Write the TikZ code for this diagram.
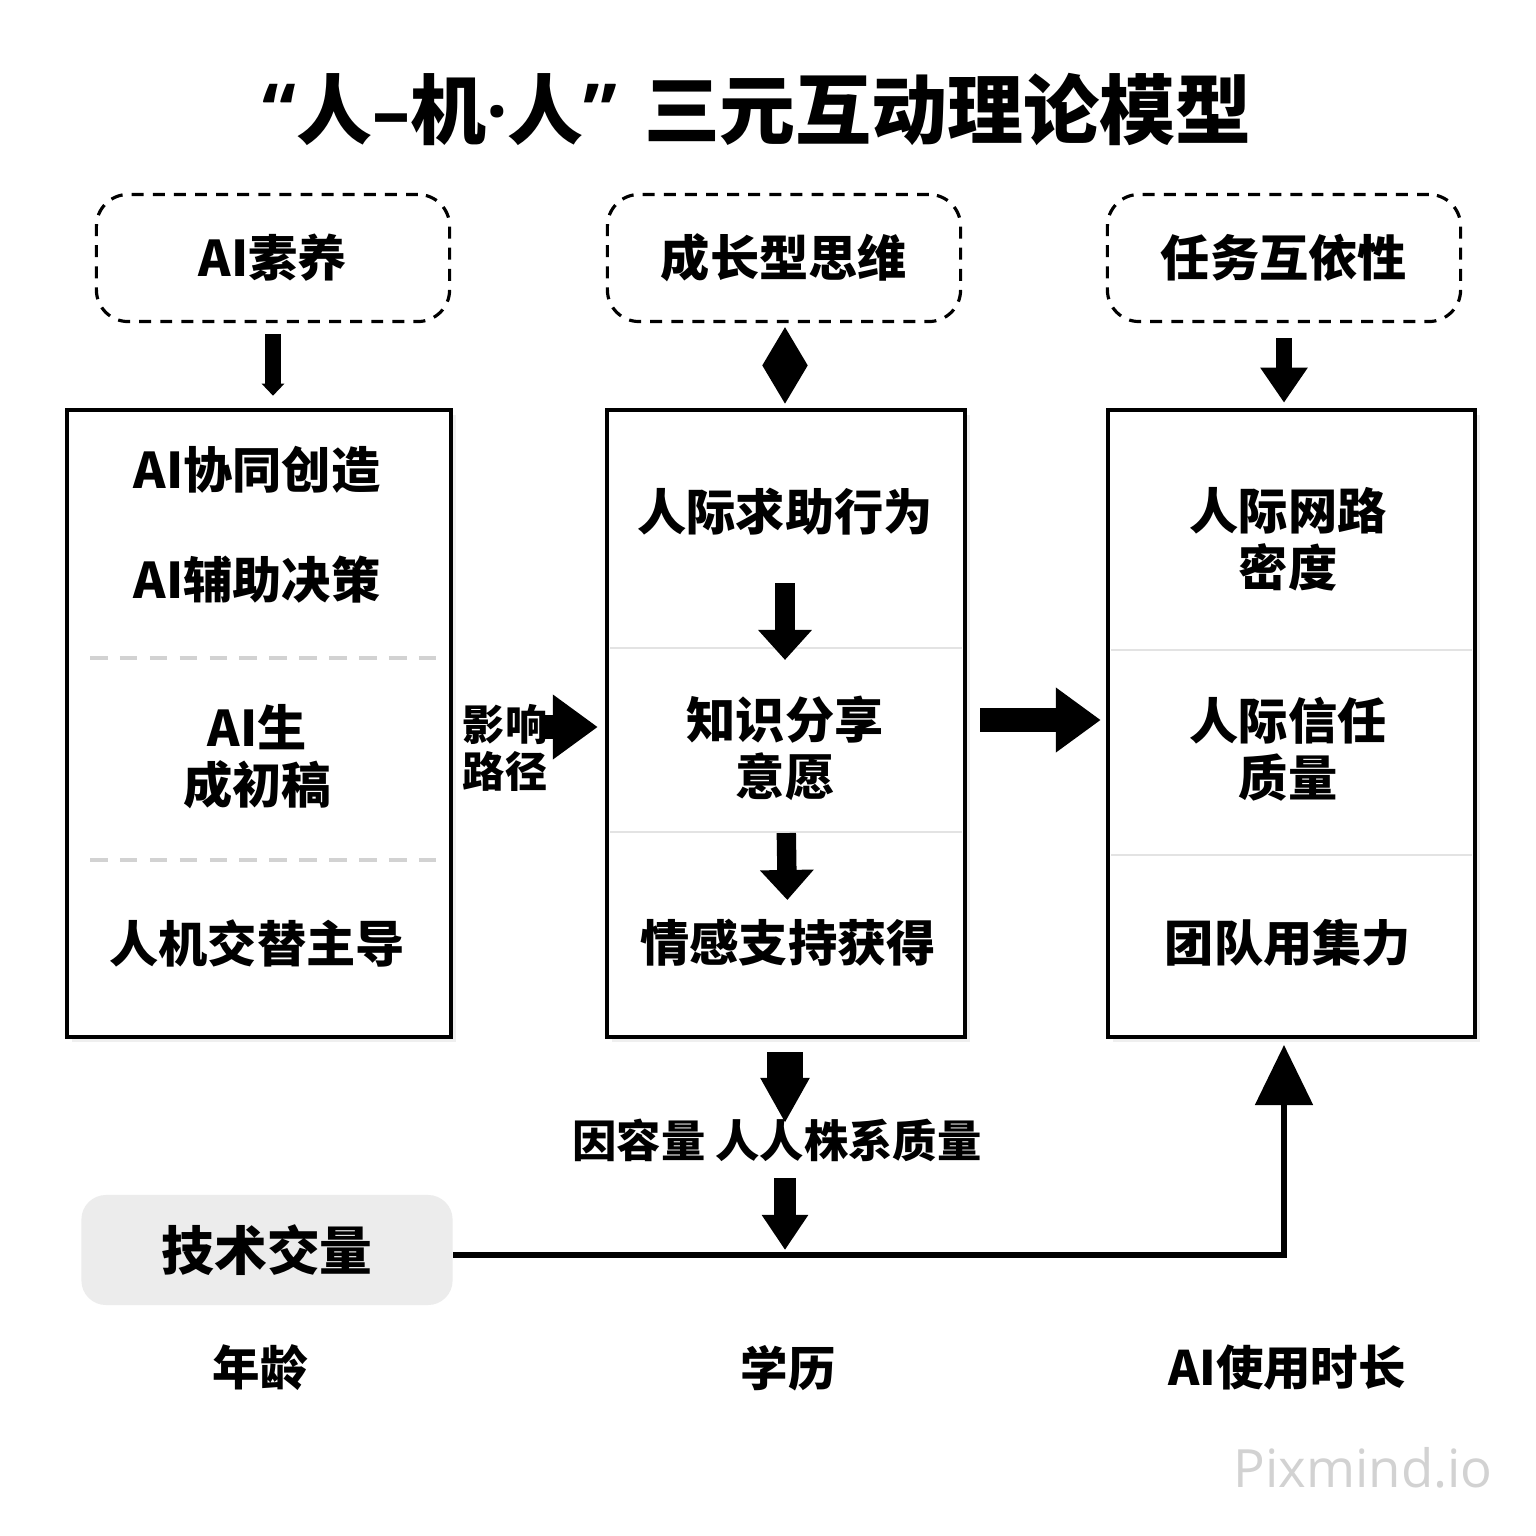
\documentclass[tikz,border=0pt]{standalone}
\usepackage{fontspec}
\setmainfont{Noto Sans CJK SC}
\newfontfamily\markfont{Open Sans}
\usetikzlibrary{positioning,arrows.meta,shapes.geometric,shadows,calc}

\begin{document}
\begin{tikzpicture}[
  x=0.01cm, y=-0.01cm,
  every node/.style={font=\bfseries\fontsize{14}{16.2}\selectfont, align=center},
  factor/.style={
    draw, line width=0.9pt, dash pattern=on 3.4pt off 2.6pt,
    rounded corners=9pt,
    minimum width=3.53cm, minimum height=1.27cm
  },
  stage/.style={
    draw, line width=1.2pt, fill=white,
    minimum height=6.27cm,
    drop shadow={shadow xshift=1.5pt, shadow yshift=-1.5pt, opacity=0.12}
  },
  splitdash/.style={gray!35, line width=0.9pt, dash pattern=on 5pt off 3.5pt},
  splitline/.style={gray!22, line width=0.7pt},
  fat/.style={line width=#1, -{Triangle[length=0.45cm, width=0.62cm]}},
  fat/.default=7pt,
  thin/.style={line width=1.5pt, -{Triangle[length=0.6cm, width=0.57cm]}}
]
\useasboundingbox[fill=white] (0,0) rectangle (1536,1536);

% 标题
\node[font=\bfseries\fontsize{21.6}{25}\selectfont] (title) at (757,110)
  {{\markfont\bfseries “}人{\markfont\bfseries –}机{\markfont\bfseries ·}人{\markfont\bfseries ”}\hspace{0.35em}三元互动理论模型};

% 三个前因变量
\node[factor] (litbox)  at (273,258)  {AI素养};
\node[factor] (growbox) at (784,258)  {成长型思维};
\node[factor] (taskbox) at (1284,258) {任务互依性};

% 三列主框
\node[stage, minimum width=3.84cm] (leftbox)  at (259,723.5)  {};
\node[stage, minimum width=3.58cm] (midbox)   at (786,723.5)  {};
\node[stage, minimum width=3.67cm] (rightbox) at (1291.5,723.5) {};

% 左框
\node (cocreate) at (257,470) {AI协同创造};
\node (decide)   at (257,580) {AI辅助决策};
\draw[splitdash] (90,658) -- (437,658);
\node (draft)    at (257,757) {AI生\\成初稿};
\draw[splitdash] (90,860) -- (437,860);
\node (alter)    at (257,943) {人机交替主导};

% 中框
\node (help)    at (785,512) {人际求助行为};
\draw[splitline] (610,648) -- (962,648);
\node (share)   at (785,748) {知识分享\\意愿};
\draw[splitline] (610,832) -- (962,832);
\node (emotion) at (788,943) {情感支持获得};
\draw[line width=5.5pt, -{Triangle[length=0.3cm, width=0.52cm]},
  shorten <=0.71cm, shorten >=0.88cm] (help.center) -- (share.center);
\draw[line width=5.5pt, -{Triangle[length=0.3cm, width=0.52cm]},
  shorten <=0.85cm, shorten >=0.43cm] (share.center) -- (emotion.center);

% 右框
\node (density) at (1288,539) {人际网路\\密度};
\draw[splitline] (1111,650) -- (1472,650);
\node (trust)   at (1288,749) {人际信任\\质量};
\draw[splitline] (1111,855) -- (1472,855);
\node (team)    at (1288,943) {团队用集力};

% 上方连接
\draw[line width=4.5pt, -{Triangle[length=0.12cm, width=0.22cm]},
  shorten <=0.11cm, shorten >=0.12cm] (litbox.south) -- (litbox.south |- leftbox.north);
\node[diamond, fill=black, inner sep=0pt, minimum width=0.46cm, minimum height=0.77cm]
  (growlink) at ($(growbox.south)!0.5!(midbox.north)$) {};
\draw[line width=4.5pt, -{Triangle[length=0.35cm, width=0.45cm]},
  shorten <=0.15cm, shorten >=0.05cm] (taskbox.south) -- (taskbox.south |- rightbox.north);

% 列间箭头
\draw[fat, shorten <=0.9cm, shorten >=0.07cm] (leftbox.east |- 0,727) -- (midbox.west |- 0,727);
\node[font=\bfseries\fontsize{12}{13.5}\selectfont] (pathlabel) at (505,748) {影响\\路径};
\draw[fat, shorten <=0.13cm, shorten >=0.05cm] (midbox.east |- 0,720) -- (rightbox.west |- 0,720);

% 下方中介
\node[font=\bfseries\fontsize{12.6}{14}\selectfont] (mediator) at (777,1140) {因容量 人人株系质量};
\draw[line width=10.5pt, -{Triangle[length=0.45cm, width=0.46cm]},
  shorten <=0.13cm, shorten >=0.17cm] (midbox.south -| 785,0) -- (785,1140);
\node[fill=gray!15, rounded corners=7pt, minimum width=3.71cm, minimum height=1.1cm,
  font=\bfseries\fontsize{15}{17}\selectfont] (tech) at (267,1250) {技术交量};
\coordinate (tap) at (785,1255);
\draw[line width=6.5pt, -{Triangle[length=0.35cm, width=0.44cm]},
  shorten <=0.38cm, shorten >=0.05cm] (785,1140) -- (tap);
\draw[thin, shorten >=0.08cm] (tech.east |- tap) -| (1284,1037);

% 控制变量
\node[font=\bfseries\fontsize{13.5}{15}\selectfont] (age)   at (260,1368)  {年龄};
\node[font=\bfseries\fontsize{13.5}{15}\selectfont] (edu)   at (788,1368)  {学历};
\node[font=\bfseries\fontsize{13.5}{15}\selectfont] (usage) at (1287,1368) {AI使用时长};

\node[font=\markfont\fontsize{15}{17}\selectfont, text=gray!35] (mark) at (1363,1468) {Pixmind.io};
\end{tikzpicture}
\end{document}
